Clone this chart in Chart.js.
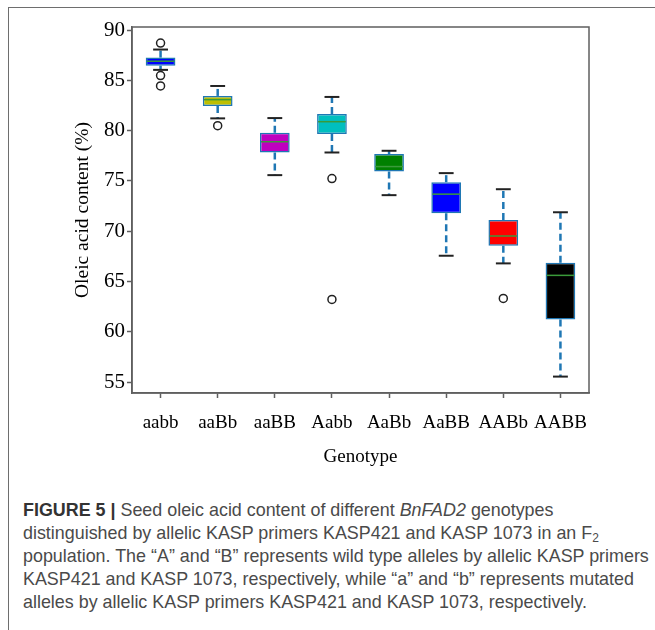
<!DOCTYPE html>
<html>
<head>
<meta charset="utf-8">
<script src="https://cdn.jsdelivr.net/npm/chart.js@4"></script>
<style>
  html, body { margin: 0; padding: 0; background: #fff; }
  body { width: 655px; height: 630px; position: relative; overflow: hidden; }
  .frame { position: absolute; left: 8px; top: 7px; width: 700px; height: 700px;
           border-top: 1.5px solid #6e6e6e; border-left: 1.5px solid #6e6e6e; }
  #wrap { position: absolute; left: 0; top: 0; width: 655px; height: 480px; }
  .caption { position: absolute; left: 23px; top: 499px; white-space: nowrap;
             font-family: "Liberation Sans", Arial, sans-serif; font-size: 17.9px;
             line-height: 23px; color: #4a4a4a; }
  .caption b { color: #333; }
  .caption sub { font-size: 12px; line-height: 0; vertical-align: -3px; }
</style>
</head>
<body>
<div class="frame"></div>
<div id="wrap"><canvas id="chart" width="655" height="480"></canvas></div>
<div class="caption"><b>FIGURE 5 |</b> Seed oleic acid content of different <i>BnFAD2</i> genotypes<br>distinguished by allelic KASP primers KASP421 and KASP 1073 in an F<sub>2</sub><br>population. The “A” and “B” represents wild type alleles by allelic KASP primers<br>KASP421 and KASP 1073, respectively, while “a” and “b” represents mutated<br>alleles by allelic KASP primers KASP421 and KASP 1073, respectively.</div>
<script>
// valores (teor de ácido oleico, %)
const genotypes = ['aabb', 'aaBb', 'aaBB', 'Aabb', 'AaBb', 'AaBB', 'AABb', 'AABB'];
const whiskerLow = [86.04, 81.22, 75.58, 77.83, 73.59, 67.57, 66.81, 55.56];
const q1 = [86.46, 82.45, 77.83, 79.66, 75.94, 71.79, 68.57, 61.24];
const median = [86.9, 83.08, 78.9, 80.89, 76.43, 73.69, 69.53, 65.62];
const q3 = [87.26, 83.45, 79.79, 81.65, 77.67, 74.88, 71.13, 66.87];
const whiskerHigh = [88.06, 84.44, 81.25, 83.35, 78.0, 75.78, 74.18, 71.89];
const outlierGroup = ['aabb', 'aabb', 'aabb', 'aaBb', 'Aabb', 'Aabb', 'AABb'];
const outlierValue = [88.7, 85.47, 84.44, 80.49, 75.24, 63.23, 63.33];
const yTicks = [55, 60, 65, 70, 75, 80, 85, 90];

const boxColors = ['#0000ff', '#bfbf00', '#bf00bf', '#00bfbf', '#008000', '#0000ff', '#ff0000', '#000000'];
const spineColor = '#5f5f5f';
const serif = '"Liberation Serif", "Times New Roman", serif';

function strokeLine(ctx, x1, y1, x2, y2) {
    ctx.beginPath();
    ctx.moveTo(x1, y1);
    ctx.lineTo(x2, y2);
    ctx.stroke();
}

// bigodes, tampas e medianas desenhados sobre as caixas
const boxParts = {
    id: 'boxParts',
    afterDatasetsDraw(chart) {
        const ctx = chart.ctx;
        const y = chart.scales.y;
        chart.getDatasetMeta(0).data.forEach((bar, i) => {
            const cx = bar.x;
            const half = bar.width / 2;
            ctx.save();
            ctx.strokeStyle = '#1f77b4';
            ctx.lineWidth = 2.5;
            ctx.setLineDash([7, 4]);
            strokeLine(ctx, cx, y.getPixelForValue(q3[i]), cx, y.getPixelForValue(whiskerHigh[i]));
            strokeLine(ctx, cx, y.getPixelForValue(q1[i]), cx, y.getPixelForValue(whiskerLow[i]));
            ctx.setLineDash([]);
            ctx.strokeStyle = '#222';
            ctx.lineWidth = 2;
            strokeLine(ctx, cx - half / 2, y.getPixelForValue(whiskerHigh[i]), cx + half / 2, y.getPixelForValue(whiskerHigh[i]));
            strokeLine(ctx, cx - half / 2, y.getPixelForValue(whiskerLow[i]), cx + half / 2, y.getPixelForValue(whiskerLow[i]));
            ctx.strokeStyle = '#3a9a3a';
            ctx.lineWidth = 1.5;
            strokeLine(ctx, cx - half + 1, y.getPixelForValue(median[i]), cx + half - 1, y.getPixelForValue(median[i]));
            ctx.restore();
        });
    }
};

// moldura completa da área do gráfico (topo e direita)
const frameBox = {
    id: 'frameBox',
    afterDraw(chart) {
        const { left, top, right, bottom } = chart.chartArea;
        const ctx = chart.ctx;
        ctx.save();
        ctx.strokeStyle = spineColor;
        ctx.lineWidth = 1.5;
        ctx.strokeRect(left, top, right - left, bottom - top);
        ctx.restore();
    }
};

new Chart(document.getElementById('chart'), {
    type: 'bar',
    data: {
        labels: genotypes,
        datasets: [{
            type: 'bar',
            data: genotypes.map((_, i) => [q1[i], q3[i]]),
            backgroundColor: boxColors,
            borderColor: '#1f77b4',
            borderWidth: 1.5,
            borderSkipped: false,
            barPercentage: 0.52,
            categoryPercentage: 1,
            order: 2
        }, {
            type: 'line',
            data: outlierGroup.map((g, i) => ({ x: g, y: outlierValue[i] })),
            showLine: false,
            pointStyle: 'circle',
            pointRadius: 4,
            pointBackgroundColor: '#fff',
            pointBorderColor: '#222',
            pointBorderWidth: 1.5,
            order: 1
        }]
    },
    options: {
        responsive: false,
        animation: false,
        devicePixelRatio: 1,
        layout: { padding: { left: 0, right: 66, top: 27, bottom: 0 } },
        plugins: { legend: { display: false }, tooltip: { enabled: false } },
        scales: {
            x: {
                type: 'category',
                offset: true,
                afterFit: (s) => { s.height = 87; },
                grid: { offset: false, drawOnChartArea: false, drawTicks: true, tickLength: 5, tickColor: spineColor, tickWidth: 1.5 },
                border: { color: spineColor, width: 1.5 },
                ticks: { color: '#000', padding: 14, maxRotation: 0, minRotation: 0, autoSkip: false, font: { family: serif, size: 19 } },
                title: { display: true, text: 'Genotype', color: '#000', font: { family: serif, size: 19 }, padding: { top: 0, bottom: 12 } }
            },
            y: {
                min: 53.93,
                max: 90.3,
                afterBuildTicks: (s) => { s.ticks = yTicks.map(v => ({ value: v })); },
                afterFit: (s) => { s.width = 132; },
                grid: { drawOnChartArea: false, drawTicks: true, tickLength: 5, tickColor: spineColor, tickWidth: 1.5 },
                border: { color: spineColor, width: 1.5 },
                ticks: { color: '#000', padding: 2, font: { family: serif, size: 21 } },
                title: { display: true, text: 'Oleic acid content (%)', color: '#000', font: { family: serif, size: 19.5 }, padding: { top: 71, bottom: 0 } }
            }
        }
    },
    plugins: [boxParts, frameBox]
});
</script>
</body>
</html>
